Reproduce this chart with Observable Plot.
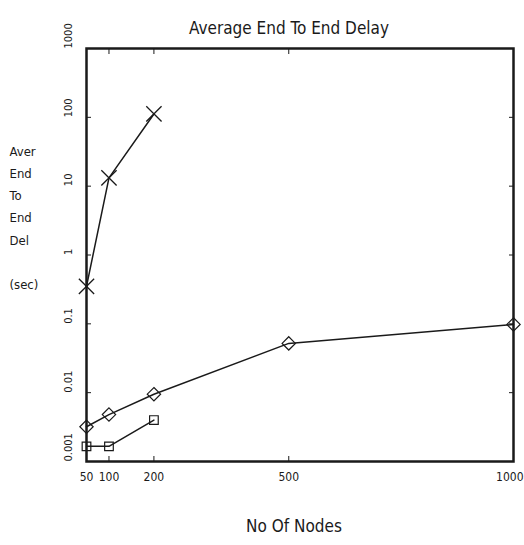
<!DOCTYPE html>
<html>
<head>
<meta charset="utf-8">
<script src="https://cdn.jsdelivr.net/npm/d3@7"></script>
<script src="https://cdn.jsdelivr.net/npm/@observablehq/plot@0.6"></script>
<style>
  html, body { margin: 0; padding: 0; background: #fff; }
</style>
</head>
<body>
<div id="chart"></div>
<script>
const title = "Average End To End Delay";
const xTitle = "No Of Nodes";
const yTitleLines = ["Aver", "End", "To", "End", "Del", "", "(sec)"];
const xTicks = [50, 100, 200, 500, 1000];
const xTickLabels = ["50", "100", "200", "500", "1000"];
const yTicks = [0.001, 0.01, 0.1, 1, 10, 100, 1000];
const yTickLabels = ["0.001", "0.01", "0.1", "1", "10", "100", "1000"];

// Series X (cross markers)
const crossNodes = [50, 100, 200];
const crossDelay = [0.35, 13.2, 112];
// Series diamond
const diamondNodes = [50, 100, 200, 500, 1000];
const diamondDelay = [0.0032, 0.0048, 0.0095, 0.052, 0.098];
// Series square
const squareNodes = [50, 100, 200];
const squareDelay = [0.00166, 0.00166, 0.004];

const toRows = (xs, ys) => xs.map((x, i) => ({x, y: ys[i]}));
const cross = toRows(crossNodes, crossDelay);
const diamond = toRows(diamondNodes, diamondDelay);
const square = toRows(squareNodes, squareDelay);

const font = "'Liberation Sans Narrow', 'Arial Narrow', 'DejaVu Sans Condensed', sans-serif";
const ink = "#1a1a1a";

const innerX = xTicks.slice(0, -1);
const lastX = xTicks.slice(-1);

const chart = Plot.plot({
  width: 524,
  height: 545,
  marginLeft: 86,
  marginRight: 11,
  marginTop: 48,
  marginBottom: 84,
  style: {fontFamily: font, background: "#fff", color: ink},
  x: {type: "linear", domain: [50, 1000], axis: null},
  y: {type: "log", domain: [0.001, 1000], axis: null},
  marks: [
    // inward ticks
    Plot.axisY(yTicks, {anchor: "left", tickSize: -5, tickFormat: () => "", label: null, stroke: ink}),
    Plot.axisY(yTicks, {anchor: "right", tickSize: -5, tickFormat: () => "", label: null, stroke: ink}),
    Plot.axisX(xTicks, {anchor: "bottom", tickSize: -5, tickFormat: () => "", label: null, stroke: ink}),
    Plot.axisX(xTicks, {anchor: "top", tickSize: -5, tickFormat: () => "", label: null, stroke: ink}),
    Plot.frame({stroke: ink, strokeWidth: 2.5}),
    // tick labels
    Plot.text(yTicks, {y: d => d, text: (d, i) => yTickLabels[i], frameAnchor: "left", rotate: -90, dx: -18, fontSize: 11, fill: ink}),
    Plot.text(innerX, {x: d => d, text: d => xTickLabels[xTicks.indexOf(d)], frameAnchor: "bottom", dy: 19, fontSize: 12, fill: ink}),
    Plot.text(lastX, {x: d => d, text: d => xTickLabels[xTicks.indexOf(d)], frameAnchor: "bottom", dy: 19, dx: 10, textAnchor: "end", fontSize: 12, fill: ink}),
    // series
    Plot.line(cross, {x: "x", y: "y", stroke: ink, strokeWidth: 1.5}),
    Plot.dot(cross, {x: "x", y: "y", symbol: "times", r: 7, stroke: ink, strokeWidth: 1.3}),
    Plot.line(diamond, {x: "x", y: "y", stroke: ink, strokeWidth: 1.5}),
    Plot.dot(diamond, {x: "x", y: "y", symbol: "diamond2", r: 6, stroke: ink, fill: "none", strokeWidth: 1.2}),
    Plot.line(square, {x: "x", y: "y", stroke: ink, strokeWidth: 1.5}),
    Plot.dot(square, {x: "x", y: "y", symbol: "square2", r: 5.5, stroke: ink, fill: "none", strokeWidth: 1.2}),
    // titles
    Plot.text([title], {frameAnchor: "top", dx: -11, dy: -27, fontSize: 17, fill: ink}),
    Plot.text([xTitle], {frameAnchor: "bottom", dx: -6, dy: 70, fontSize: 17, fill: ink}),
    Plot.text([yTitleLines.join("\n")], {frameAnchor: "top-left", dx: -77, dy: 92, textAnchor: "start", lineAnchor: "top", lineHeight: 1.7, fontSize: 13, fill: ink})
  ]
});
document.getElementById("chart").appendChild(chart);
</script>
</body>
</html>
